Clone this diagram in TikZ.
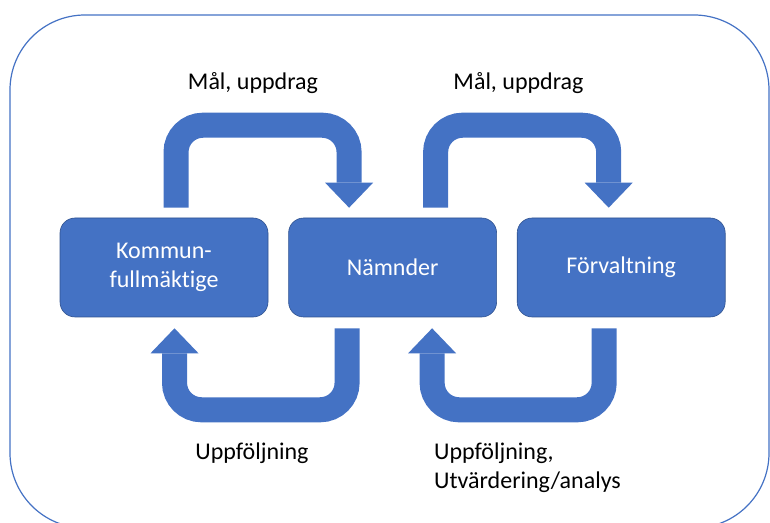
\documentclass[tikz,border=0pt]{standalone}
\usepackage{fontspec}
\setmainfont{Carlito}[Ligatures=NoCommon]
\usetikzlibrary{positioning,arrows.meta}
\definecolor{office}{HTML}{4472C4}
\definecolor{officedark}{HTML}{2F528F}

\begin{document}
\begin{tikzpicture}[x=1pt,y=1pt,
  organ/.style={fill=office,draw=officedark,line width=0.6pt,rounded corners=15pt,
    minimum width=208pt,minimum height=99pt,text=white,align=center,
    font=\fontsize{24}{29}\selectfont},
  flow/.style={draw=office,line width=25pt,rounded corners=27pt,
    -{Triangle[width=48pt,length=25pt,line width=0pt,fill=office]}},
  lbl/.style={inner sep=0pt,align=left,font=\fontsize{24}{29}\selectfont}]

\useasboundingbox (0,0) rectangle (770,522);
\clip (0,0) rectangle (770,522);
\draw[office,line width=1.2pt,rounded corners=75pt] (10,-6) rectangle (769,507);

\node[organ] (kf) at (164,254.5) {Kommun-\\fullmäktige};
\node[organ,right=20pt of kf] (nd) {Nämnder};
\node[organ,right=20pt of nd] (fv) {Förvaltning};

% mål och uppdrag nedåt
\draw[flow] ([xshift=12pt,yshift=10pt]kf.north) -- ++(0,82.5) -| ([xshift=-43.5pt,yshift=10pt]nd.north);
\draw[flow] ([xshift=43pt,yshift=10pt]nd.north) -- ++(0,82.5) -| ([xshift=-12.5pt,yshift=10pt]fv.north);

% uppföljning tillbaka
\draw[flow] ([xshift=-45.5pt,yshift=-11pt]nd.south) -- ++(0,-81.5) -| ([xshift=10.5pt,yshift=-11pt]kf.south);
\draw[flow] ([xshift=-17pt,yshift=-11pt]fv.south) -- ++(0,-81.5) -| ([xshift=39.5pt,yshift=-11pt]nd.south);

\node[lbl] (mal1) at (253,439) {Mål, uppdrag};
\node[lbl] (mal2) at (518.5,439) {Mål, uppdrag};
\node[lbl] (upp1) at (252,69) {Uppföljning};
\node[lbl,anchor=west] (upp2) at (434,54.5) {Uppföljning,\\Utvärdering/analys};

\end{tikzpicture}
\end{document}
